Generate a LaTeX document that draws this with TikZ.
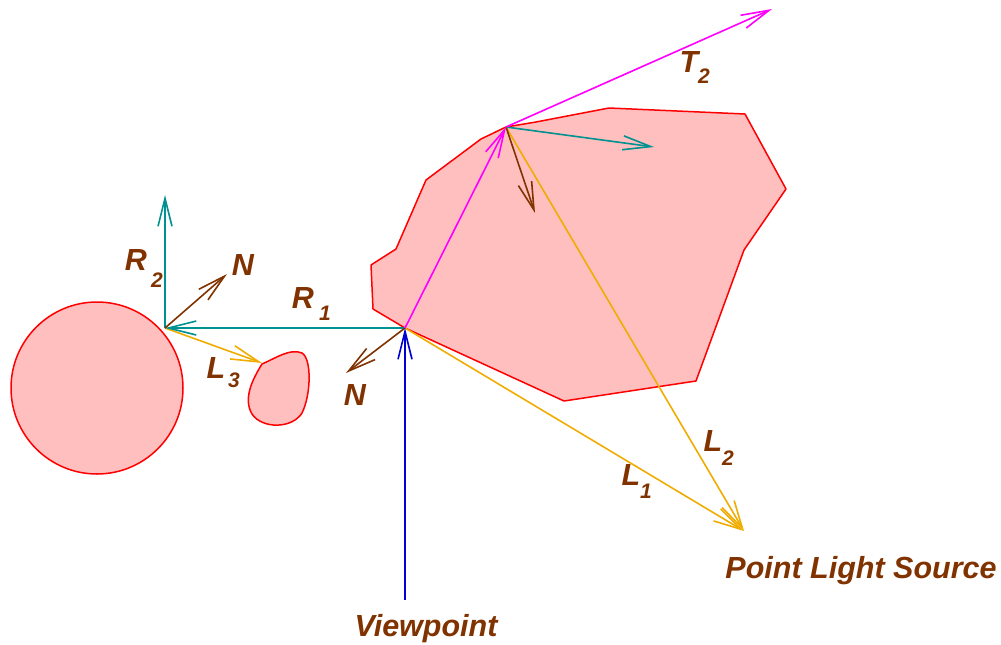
\documentclass[tikz,border=0pt]{standalone}
\usepackage{fontspec}
\setmainfont{Liberation Sans}
\usetikzlibrary{arrows.meta}
\definecolor{txtbrown}{RGB}{128,51,0}
\definecolor{blobfill}{RGB}{255,191,191}
\definecolor{objred}{RGB}{255,0,0}
\definecolor{tealc}{RGB}{0,145,145}
\definecolor{orangec}{RGB}{240,172,0}
\definecolor{magc}{RGB}{255,0,255}
\definecolor{bluec}{RGB}{0,0,210}
\definecolor{brownc}{RGB}{128,51,0}
\tikzset{
  obj/.style={draw=objred, fill=blobfill, line width=1.5pt, line join=round},
  vec/.style={line width=1.6pt, -{Straight Barb[length=28pt,width=14pt]}},
  lbl/.style={text=txtbrown, font=\fontsize{30.5}{34}\selectfont\bfseries\itshape, inner sep=0pt},
  sub/.style={text=txtbrown, font=\fontsize{21}{24}\selectfont\bfseries\itshape, inner sep=0pt},
}
\begin{document}
\begin{tikzpicture}[x=1pt,y=-1pt]
\useasboundingbox (0,0) rectangle (1001,645);
% objects
\draw[obj] (97,388) circle (86);
\draw[obj] (262,364) .. controls (276,358) and (290,348) .. (302,353)
  .. controls (312,359) and (311,395) .. (302,413)
  .. controls (292,429) and (262,429) .. (252,414)
  .. controls (243,399) and (252,380) .. cycle;
\draw[obj] (405,328) -- (373,309) -- (371,265) -- (396,249) -- (426,180)
  -- (481,139) -- (506,127) -- (536,122) -- (609,108) -- (745,114)
  -- (786,189) -- (744,250) -- (696,381) -- (564,401) -- cycle;
% points
\coordinate (V) at (405,600);
\coordinate (H1) at (405,328);
\coordinate (H2) at (506,127);
\coordinate (H3) at (165,328);
\coordinate (LS) at (744,531);
\coordinate (T2e) at (772,9);
\coordinate (R2e) at (165,195);
\coordinate (N3e) at (227,274);
\coordinate (L3e) at (262,363);
\coordinate (N1e) at (346,373);
\coordinate (R3e) at (654,147);
\coordinate (N2e) at (535,213);
% vectors
\draw[vec, orangec] (H1) -- (LS);
\draw[vec, orangec] (H2) -- (LS);
\draw[vec, orangec] (H3) -- (L3e);
\draw[vec, tealc] (H1) -- (H3);
\draw[vec, tealc] (H3) -- (R2e);
\draw[vec, tealc] (H2) -- (R3e);
\draw[vec, brownc] (H3) -- (N3e);
\draw[vec, brownc] (H1) -- (N1e);
\draw[vec, brownc] (H2) -- (N2e);
\draw[vec, magc] (H1) -- (H2);
\draw[vec, magc] (H2) -- (T2e);
\draw[vec, bluec] (V) -- (H1);
% labels
\node[lbl] (lR2) at (136,260) {R};
\node[sub] (lR2s) at (157,280) {2};
\node[lbl] (lN3) at (243,265) {N};
\node[lbl] (lR1) at (303,298) {R};
\node[sub] (lR1s) at (325,313) {1};
\node[lbl] (lL3) at (216,368) {L};
\node[sub] (lL3s) at (234,380) {3};
\node[lbl] (lN1) at (355,395) {N};
\node[lbl] (lT2) at (689,62) {T};
\node[sub] (lT2s) at (704,76) {2};
\node[lbl] (lL2) at (713,441) {L};
\node[sub] (lL2s) at (728,458) {2};
\node[lbl] (lL1) at (631,475) {L};
\node[sub] (lL1s) at (646,491) {1};
\node[lbl, anchor=base] (lPLS) at (861,578) {Point Light Source};
\node[lbl, anchor=base] (lVP) at (426,636) {Viewpoint};
\end{tikzpicture}
\end{document}
